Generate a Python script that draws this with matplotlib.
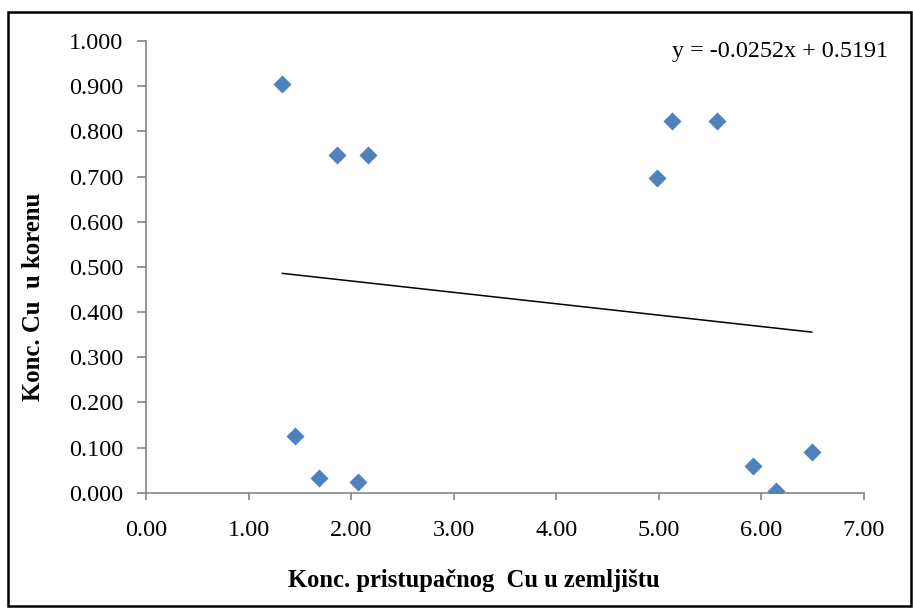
import matplotlib
matplotlib.use("Agg")
import matplotlib.pyplot as plt
from matplotlib.patches import Rectangle
import numpy as np

# Data
x_soil = [1.33, 1.86, 2.16, 1.45, 1.69, 2.07, 4.98, 5.13, 5.57, 5.92, 6.14, 6.49]
y_root = [0.905, 0.747, 0.747, 0.125, 0.032, 0.024, 0.697, 0.822, 0.822, 0.059, 0.004, 0.090]
slope = -0.0252
intercept = 0.5191
x_ticks = [0, 1, 2, 3, 4, 5, 6, 7]
y_ticks = [0.0, 0.1, 0.2, 0.3, 0.4, 0.5, 0.6, 0.7, 0.8, 0.9, 1.0]
x_label = "Konc. pristupačnog  Cu u zemljištu"
y_label = "Konc. Cu  u korenu"
eq_text = "y = -0.0252x + 0.5191"

plt.rcParams['font.family'] = ['Liberation Serif', 'DejaVu Serif']

W, H = 913, 611
fig = plt.figure(figsize=(W / 100, H / 100), dpi=100)
ax = fig.add_axes([146 / W, 1 - 492.7 / H, (864 - 146) / W, (492.7 - 41) / H])

ax.scatter(x_soil, y_root, marker='D', s=9.2 ** 2, color='#4F81BD', zorder=3, linewidths=0)

xs = np.array([min(x_soil), max(x_soil)])
ax.plot(xs, slope * xs + intercept, color='black', lw=1.1, zorder=2)

ax.set_xlim(0, 7)
ax.set_ylim(0, 1.0)
ax.set_xticks(x_ticks)
ax.set_xticklabels([f"{v:.2f}" for v in x_ticks])
ax.set_yticks(y_ticks)
ax.set_yticklabels([f"{v:.3f}" for v in y_ticks])

for s in ['top', 'right']:
    ax.spines[s].set_visible(False)
for s in ['left', 'bottom']:
    ax.spines[s].set_color('#868686')
    ax.spines[s].set_linewidth(1.2)
    ax.spines[s].set_clip_on(False)
ax.tick_params(axis='both', direction='out', color='#868686', width=1.2,
               labelsize=17.5, labelcolor='black')
ax.tick_params(axis='y', length=6.5, pad=10)
ax.tick_params(axis='x', length=5.3, pad=14)

fig.text(474 / W, 1 - 580 / H, x_label, ha='center', va='center',
         fontsize=17.7, fontweight='bold')
fig.text(34 / W, 1 - 297 / H, y_label, ha='center', va='center',
         rotation=90, fontsize=17.8, fontweight='bold')
fig.text(780 / W, 1 - 52 / H, eq_text, ha='center', va='center', fontsize=17.4)

fig.patches.append(Rectangle((8 / W, 1 - 606 / H), (911 - 8) / W, (606 - 11.5) / H,
                             transform=fig.transFigure, fill=False,
                             edgecolor='black', linewidth=1.8))

fig.savefig("out.png", dpi=100)
